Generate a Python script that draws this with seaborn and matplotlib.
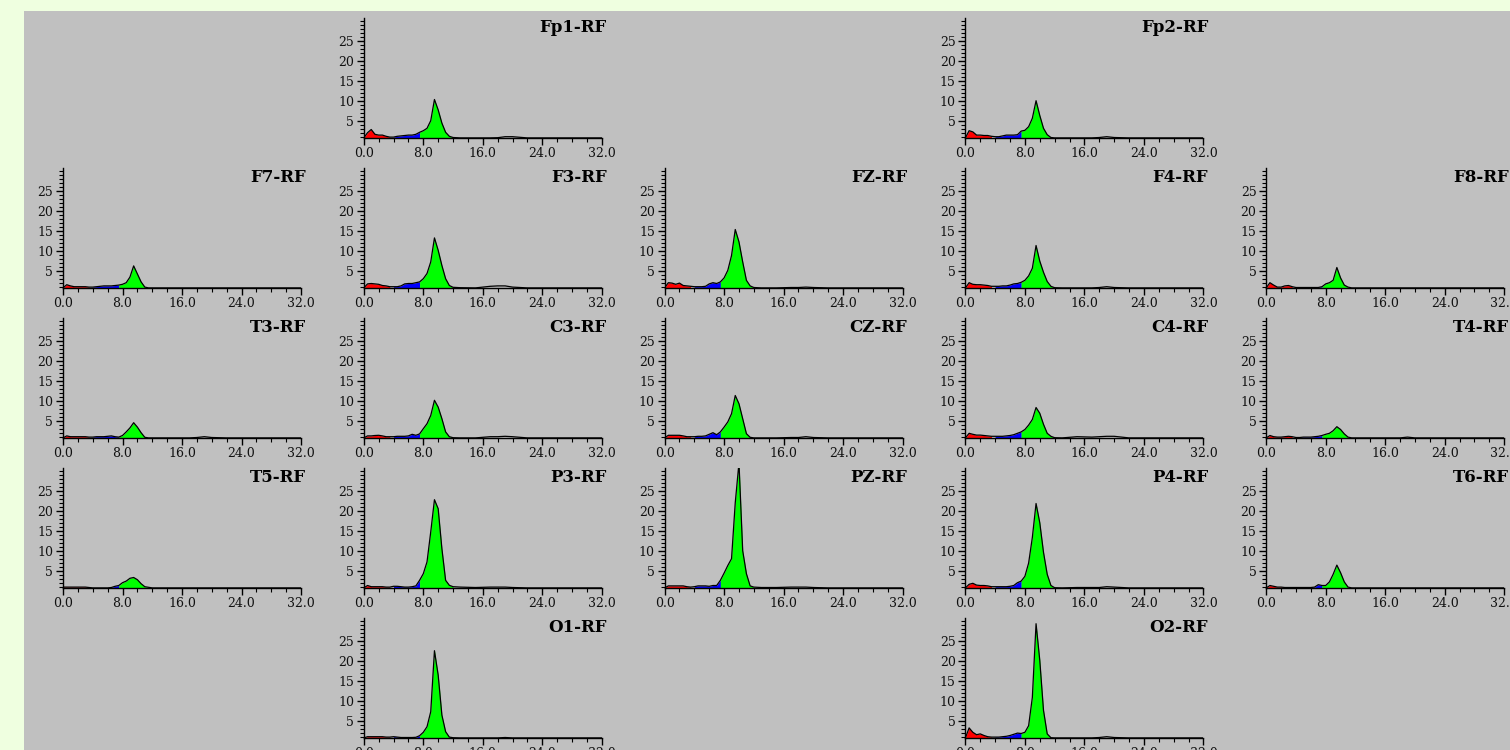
import matplotlib
matplotlib.use('Agg')
import matplotlib.pyplot as plt
import seaborn as sns
import numpy as np
from matplotlib.patches import Rectangle
from matplotlib.ticker import MultipleLocator

# frequency bins (Hz) shared by every channel
freqs = [0.0, 0.5, 1.0, 1.5, 2.0, 2.5, 3.0, 3.5, 4.0, 4.5, 5.0, 5.5, 6.0, 6.5,
         7.0, 7.5, 8.0, 8.5, 9.0, 9.5, 10.0, 10.5, 11.0, 11.5, 12.0,
         13.0, 15.0, 17.0, 18.0, 19.0, 20.0, 22.0, 32.0]

fp1 = [0.7, 2.0, 2.8, 1.6, 1.4, 1.4, 1.1, 0.9, 0.9, 1.1, 1.2, 1.3, 1.4, 1.4, 1.6, 2.1, 2.5, 3.1, 5.0, 10.3, 7.7, 4.4, 2.1, 1.1, 0.8,
       0.7, 0.7, 0.7, 0.75, 1.0, 1.0, 0.7, 0.7]
fp2 = [0.7, 2.5, 2.2, 1.4, 1.4, 1.3, 1.3, 1.1, 1.0, 1.0, 1.2, 1.4, 1.4, 1.4, 1.5, 2.4, 2.6, 3.5, 5.6, 10.0, 6.3, 3.1, 1.5, 0.8, 0.7,
       0.7, 0.7, 0.7, 0.8, 1.0, 0.8, 0.7, 0.7]
f7 = [0.7, 1.5, 1.2, 1.0, 1.0, 1.0, 1.0, 0.9, 0.9, 1.0, 1.1, 1.2, 1.2, 1.2, 1.3, 1.4, 1.6, 2.0, 3.4, 6.2, 4.2, 2.2, 0.9, 0.7, 0.7,
      0.7, 0.7, 0.7, 0.7, 0.7, 0.7, 0.7, 0.7]
f3 = [0.7, 1.7, 1.8, 1.7, 1.6, 1.3, 1.2, 1.0, 1.0, 1.0, 1.2, 1.7, 1.8, 1.8, 2.0, 2.2, 3.0, 4.3, 7.2, 13.2, 10.1, 6.3, 3.0, 1.3, 0.85,
      0.75, 0.7, 1.1, 1.2, 1.2, 0.9, 0.7, 0.7]
fz = [0.7, 2.0, 1.9, 1.6, 1.9, 1.3, 1.2, 1.1, 1.0, 1.0, 1.0, 1.1, 1.7, 2.0, 1.8, 2.2, 3.2, 5.1, 8.8, 15.3, 12.2, 7.2, 2.6, 1.2, 0.8,
      0.7, 0.7, 0.8, 0.8, 0.9, 0.8, 0.7, 0.7]
f4 = [0.7, 2.0, 1.6, 1.5, 1.5, 1.4, 1.3, 1.1, 1.1, 1.1, 1.2, 1.2, 1.4, 1.7, 1.8, 2.1, 2.6, 3.7, 5.6, 11.3, 7.4, 4.6, 2.3, 1.1, 0.75,
      0.7, 0.7, 0.7, 0.8, 1.0, 0.8, 0.7, 0.7]
f8 = [0.7, 2.0, 1.4, 0.9, 0.9, 1.2, 1.3, 1.0, 0.8, 0.8, 0.8, 0.8, 0.8, 0.8, 0.8, 1.0, 1.7, 2.0, 2.6, 5.8, 3.2, 1.4, 0.9, 0.7, 0.7,
      0.7, 0.7, 0.7, 0.7, 0.7, 0.7, 0.7, 0.7]
t3 = [0.7, 1.2, 1.0, 1.0, 1.0, 1.0, 1.0, 0.9, 0.9, 1.0, 1.0, 1.0, 1.1, 1.2, 1.0, 0.9, 1.3, 2.2, 3.2, 4.5, 3.4, 2.0, 0.85, 0.7, 0.7,
      0.7, 0.7, 0.7, 0.8, 1.0, 0.8, 0.7, 0.7]
c3 = [0.7, 1.2, 1.2, 1.3, 1.35, 1.2, 1.0, 1.0, 1.0, 1.1, 1.1, 1.1, 1.2, 1.6, 1.35, 1.7, 3.0, 4.25, 6.3, 10.1, 8.4, 5.5, 2.2, 1.0, 0.75,
      0.7, 0.7, 1.0, 1.0, 1.1, 1.0, 0.7, 0.7]
cz = [0.7, 1.35, 1.35, 1.35, 1.35, 1.2, 1.0, 1.0, 1.0, 1.1, 1.1, 1.2, 1.6, 2.0, 1.5, 2.2, 3.4, 4.7, 6.75, 11.3, 9.25, 5.5, 1.75, 0.85, 0.7,
      0.7, 0.7, 0.8, 0.8, 1.0, 0.8, 0.7, 0.7]
c4 = [0.7, 1.85, 1.6, 1.4, 1.4, 1.3, 1.2, 1.1, 1.1, 1.1, 1.1, 1.2, 1.3, 1.5, 1.85, 2.2, 2.8, 3.9, 5.3, 8.3, 6.85, 4.1, 1.85, 1.1, 0.75,
      0.7, 1.0, 0.9, 1.0, 1.1, 1.1, 0.7, 0.7]
t4 = [0.7, 1.3, 1.0, 0.9, 0.9, 1.0, 1.1, 1.0, 0.8, 0.8, 0.9, 0.9, 0.9, 1.0, 1.1, 1.3, 1.6, 1.85, 2.5, 3.5, 2.8, 1.7, 0.9, 0.7, 0.7,
      0.7, 0.7, 0.7, 0.7, 0.9, 0.7, 0.7, 0.7]
t5 = [0.9, 0.9, 0.9, 0.9, 0.9, 0.9, 0.9, 0.8, 0.7, 0.7, 0.7, 0.7, 0.7, 0.8, 1.1, 1.3, 2.0, 2.4, 3.1, 3.3, 2.75, 1.75, 1.0, 0.85, 0.7,
      0.7, 0.7, 0.7, 0.7, 0.7, 0.7, 0.7, 0.7]
p3 = [0.7, 1.3, 1.0, 1.0, 1.0, 1.0, 0.9, 0.9, 1.1, 1.1, 1.0, 0.9, 0.9, 1.0, 1.2, 2.6, 4.25, 7.2, 14.7, 22.75, 20.5, 10.5, 2.6, 1.35, 1.0,
      0.9, 0.8, 0.9, 0.9, 0.9, 0.8, 0.7, 0.7]
pz = [0.7, 1.2, 1.2, 1.2, 1.2, 1.2, 1.0, 0.9, 1.0, 1.2, 1.2, 1.2, 1.1, 1.3, 1.3, 2.6, 4.4, 6.3, 8.0, 22.0, 32.0, 10.0, 4.25, 1.2, 0.9,
      0.8, 0.8, 0.9, 0.9, 0.9, 0.8, 0.7, 0.7]
p4 = [0.7, 1.6, 1.85, 1.4, 1.3, 1.3, 1.2, 1.0, 1.0, 1.0, 1.0, 1.0, 1.1, 1.3, 2.0, 2.4, 3.6, 6.9, 13.3, 21.8, 17.0, 9.6, 4.1, 1.3, 0.75,
      0.7, 0.8, 0.8, 0.8, 1.0, 0.9, 0.7, 0.7]
t6 = [0.7, 1.3, 1.1, 0.9, 0.9, 0.8, 0.8, 0.8, 0.8, 0.8, 0.8, 0.8, 0.8, 0.9, 1.5, 1.3, 1.3, 2.2, 4.1, 6.4, 4.5, 2.2, 0.9, 0.7, 0.7,
      0.7, 0.7, 0.7, 0.7, 0.7, 0.7, 0.7, 0.7]
o1 = [0.7, 1.0, 1.0, 1.0, 1.0, 1.0, 0.9, 0.9, 1.0, 0.9, 0.8, 0.8, 0.8, 0.8, 0.85, 1.25, 2.1, 3.5, 7.25, 22.5, 16.4, 6.4, 2.25, 0.9, 0.75,
      0.7, 0.7, 0.7, 0.7, 0.8, 0.7, 0.7, 0.7]
o2 = [0.7, 3.2, 2.1, 1.5, 1.7, 1.3, 1.0, 0.9, 0.9, 0.9, 1.0, 1.1, 1.3, 1.6, 1.9, 1.8, 2.1, 3.75, 10.8, 29.25, 20.1, 7.6, 1.7, 0.75, 0.7,
      0.7, 0.7, 0.7, 0.8, 1.0, 0.8, 0.7, 0.7]

# channel -> (grid row, grid column, spectrum)
channels = {
    'Fp1-RF': (0, 1, fp1), 'Fp2-RF': (0, 3, fp2),
    'F7-RF': (1, 0, f7), 'F3-RF': (1, 1, f3), 'FZ-RF': (1, 2, fz), 'F4-RF': (1, 3, f4), 'F8-RF': (1, 4, f8),
    'T3-RF': (2, 0, t3), 'C3-RF': (2, 1, c3), 'CZ-RF': (2, 2, cz), 'C4-RF': (2, 3, c4), 'T4-RF': (2, 4, t4),
    'T5-RF': (3, 0, t5), 'P3-RF': (3, 1, p3), 'PZ-RF': (3, 2, pz), 'P4-RF': (3, 3, p4), 'T6-RF': (3, 4, t6),
    'O1-RF': (4, 1, o1), 'O2-RF': (4, 3, o2),
}

# delta / theta / alpha bands
bands = [(0.0, 3.5, '#ff0000'), (4.0, 7.5, '#0000ff'), (7.5, 12.0, '#00ff00')]
xtick_vals = [0, 8, 16, 24, 32]
ytick_vals = [5, 10, 15, 20, 25]

sns.set_theme(style='ticks')
plt.rcParams['font.family'] = ['DejaVu Serif']

W, H = 1510, 750
fig = plt.figure(figsize=(W / 100, H / 100), dpi=100)
fig.patch.set_facecolor('#efffe0')
fig.add_artist(Rectangle((24 / W, 0), 1, 1 - 11 / H, transform=fig.transFigure,
                         facecolor='#c0c0c0', edgecolor='none', zorder=-5))

ax_w, ax_h = 238, 120
for name, (row, col, vals) in channels.items():
    x0 = 63 + 300.8 * col
    base = 137.7 + 150 * row
    ax = fig.add_axes([x0 / W, 1 - base / H, ax_w / W, ax_h / H])
    ax.set_facecolor('none')

    f = np.array(freqs)
    v = np.array(vals)
    for lo, hi, colr in bands:
        mask = (f >= lo) & (f <= hi)
        ax.fill_between(f, 0, v, where=mask, color=colr, lw=0, zorder=2)
    sns.lineplot(x=freqs, y=vals, ax=ax, color='black', lw=0.9, zorder=3)

    ax.set_xlim(0, 32)
    ax.set_ylim(0.75, 30.75)
    ax.set_xticks(xtick_vals)
    ax.set_xticklabels([f'{t:.1f}' for t in xtick_vals])
    ax.xaxis.set_minor_locator(MultipleLocator(2))
    ax.set_yticks(ytick_vals)
    ax.set_yticklabels([str(t) for t in ytick_vals])
    ax.yaxis.set_minor_locator(MultipleLocator(1))
    ax.tick_params(which='major', length=5, width=1, color='black',
                   labelsize=9, labelcolor='#111111', pad=2)
    ax.tick_params(which='minor', length=3, width=0.8, color='black')
    for s in ['top', 'right']:
        ax.spines[s].set_visible(False)
    for s in ['left', 'bottom']:
        ax.spines[s].set_color('black')
        ax.spines[s].set_linewidth(1)
    ax.set_xlabel('')
    ax.set_ylabel('')
    ax.text(1.02, 0.883, name, transform=ax.transAxes, ha='right', va='baseline',
            fontsize=12, fontweight='bold', color='black')

fig.savefig('out.png', dpi=100, facecolor=fig.get_facecolor())
